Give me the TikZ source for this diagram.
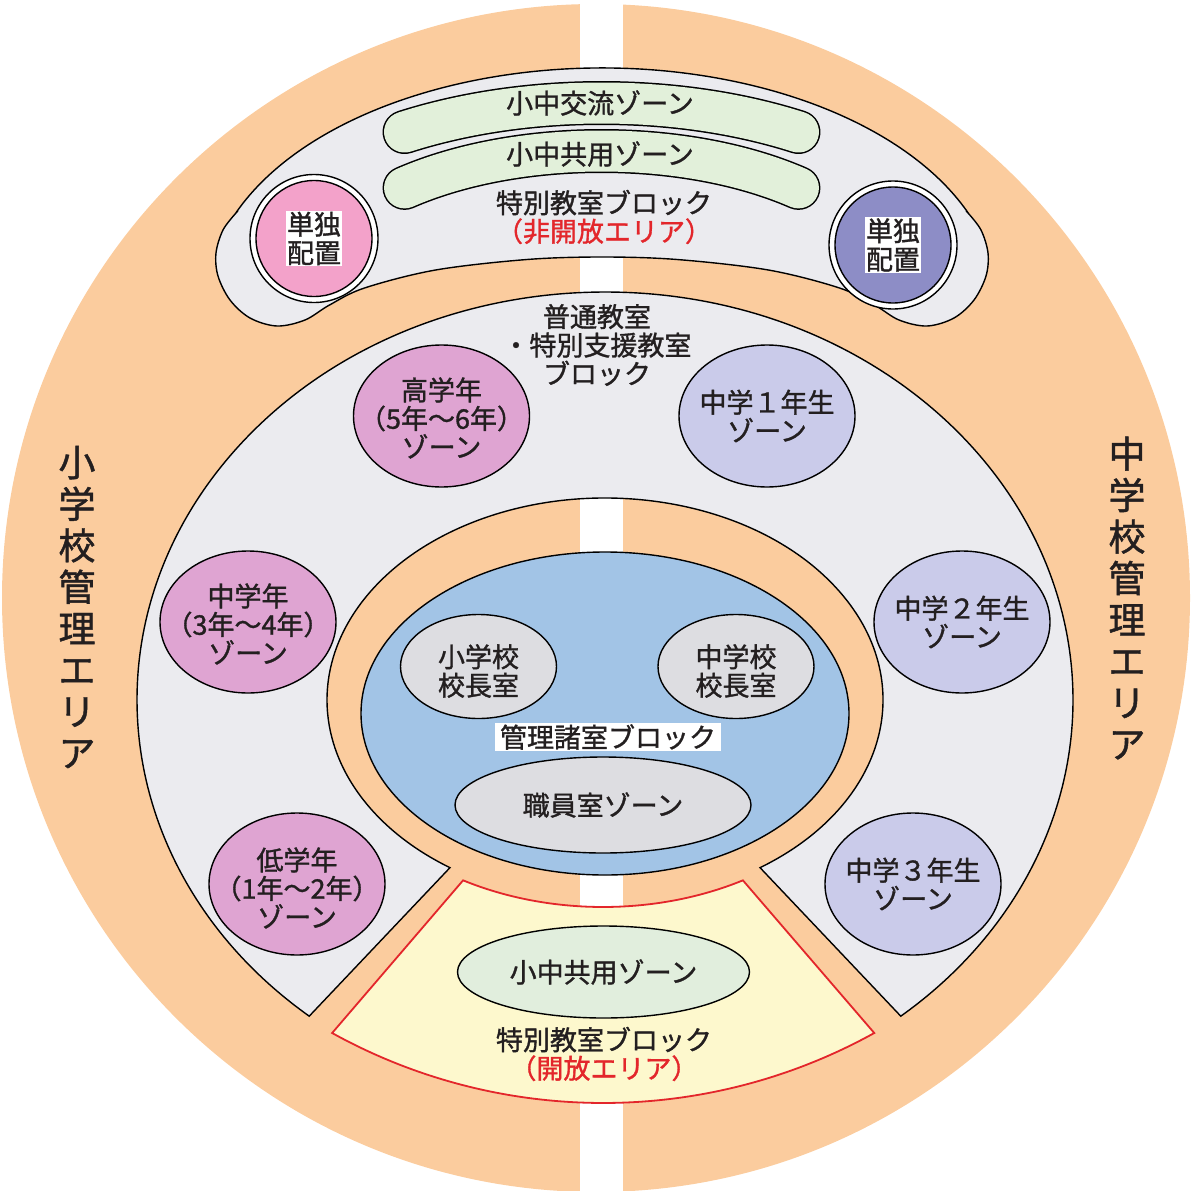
\documentclass[tikz,border=0pt]{standalone}
\usepackage{fontspec}
\setmainfont{Noto Sans CJK JP}[AutoFakeBold=1.2]
\usetikzlibrary{shapes.geometric}
\definecolor{orng}{HTML}{FBCC9E}
\definecolor{blockgray}{HTML}{EBEBEF}
\definecolor{pillgreen}{HTML}{E2F0DA}
\definecolor{pinkc}{HTML}{F3A2CA}
\definecolor{purplec}{HTML}{8D8DC6}
\definecolor{pinkz}{HTML}{DFA4D2}
\definecolor{lavz}{HTML}{CACBEA}
\definecolor{bluez}{HTML}{A2C4E6}
\definecolor{roomgray}{HTML}{DDDDE1}
\definecolor{yellz}{HTML}{FDF8CD}
\definecolor{redl}{HTML}{E3262B}
\definecolor{greenz}{HTML}{E1EEDD}
\definecolor{txt}{HTML}{231F20}
\tikzset{
  outl/.style={draw=black, line width=1.4pt},
  zone/.style={shape=ellipse, outl, inner sep=0pt},
  lbl/.style={font=\fontsize{27}{28.5}\selectfont\bfseries, align=center, inner sep=0pt, text=txt},
  vlbl/.style={font=\fontsize{37}{41.5}\selectfont\bfseries, align=center, inner sep=0pt, text=txt},
  pillout/.style={line width=44pt, draw=black, line cap=round},
  pillin/.style={line width=41pt, draw=pillgreen, line cap=round},
}
\begin{document}
\begin{tikzpicture}[x=1pt,y=-1pt]
\useasboundingbox (0,0) rectangle (1192,1191);
% background
\fill[orng] (596,598) circle[radius=594];
\fill[white] (580,0) rectangle (623,1191);
% top special block (banana)
\path[outl, fill=blockgray] ([shift={(602,300)}]202:395 and 232)
  arc[start angle=202, end angle=338, x radius=395, y radius=232]
  -- plot[smooth, tension=0.55] coordinates {(968,213) (981,230) (988,253) (986,276) (974,300) (954,318) (927,326) (899,320) (874.5,305) (839.5,288) (768.4,270) (677,259.5) (602,257) (527,259.5) (435.6,270) (364.5,288) (329.5,305) (305,320) (277,326) (250,318) (230,300) (218,276) (216,253) (223,230) (236,213)}
  -- cycle;
% regular classroom block
\path[outl, fill=blockgray] ([shift={(605,700)}]129.2:468 and 408)
  arc[start angle=129.2, end angle=410.8, x radius=468, y radius=408]
  -- ([shift={(605,700)}]56.1:278 and 202)
  arc[start angle=56.1, end angle=-236.1, x radius=278, y radius=202]
  -- cycle;
% admin block
\node[zone, fill=bluez, minimum width=488pt, minimum height=323pt] (adm) at (605,713.5) {};
% open special block
\path[draw=redl, line width=1.8pt, fill=yellz] ([shift={(603,700)}]119.4:285 and 207)
  -- ([shift={(603.2,543)}]118.95:560)
  arc[start angle=118.95, end angle=61.05, radius=560]
  -- ([shift={(603,700)}]60.6:285 and 207)
  arc[start angle=60.6, end angle=119.4, x radius=285, y radius=207]
  -- cycle;
% pills
\draw[pillout] ([shift={(601.5,300)}]238.5:377 and 197) arc[start angle=238.5, end angle=301.5, x radius=377, y radius=197];
\draw[pillin] ([shift={(601.5,300)}]238.5:377 and 197) arc[start angle=238.5, end angle=301.5, x radius=377, y radius=197];
\draw[pillout] ([shift={(601.5,300)}]228.8:299 and 149) arc[start angle=228.8, end angle=311.2, x radius=299, y radius=149];
\draw[pillin] ([shift={(601.5,300)}]228.8:299 and 149) arc[start angle=228.8, end angle=311.2, x radius=299, y radius=149];
\node[lbl] (p1) at (600,103) {小中交流ゾーン};
\node[lbl] (p2) at (600,154) {小中共用ゾーン};
\node[lbl] (sp) at (604,217) {特別教室ブロック\\\textcolor{redl}{（非開放エリア）}};
% single placement circles
\node[shape=circle, outl, fill=white, minimum size=128pt, inner sep=0pt] (c1o) at (314,238.5) {};
\node[shape=circle, outl, fill=pinkc, minimum size=116pt, inner sep=0pt] (c1) at (c1o) {};
\node[lbl, fill=white, inner sep=1pt] (c1t) at (c1) {単独\\配置};
\node[shape=circle, outl, fill=white, minimum size=128pt, inner sep=0pt] (c2o) at (893,245) {};
\node[shape=circle, outl, fill=purplec, minimum size=116pt, inner sep=0pt] (c2) at (c2o) {};
\node[lbl, fill=white, inner sep=1pt] (c2t) at (c2) {単独\\配置};
% regular block label
\node[lbl] (reg) at (597,345) {普通教室\\・特別支援教室\\ブロック};
% grade zones
\node[zone, fill=pinkz, minimum width=176pt, minimum height=142pt] (g56) at (441.5,416) {};
\node[lbl] (g56t) at (441.5,418) {高学年\\（5年～6年）\\ゾーン};
\node[zone, fill=pinkz, minimum width=176pt, minimum height=142pt] (g34) at (248,622) {};
\node[lbl] (g34t) at (248,624) {中学年\\（3年～4年）\\ゾーン};
\node[zone, fill=pinkz, minimum width=176pt, minimum height=142pt] (g12) at (297,884) {};
\node[lbl] (g12t) at (297,888) {低学年\\（1年～2年）\\ゾーン};
\node[zone, fill=lavz, minimum width=176pt, minimum height=142pt] (m1) at (767,416) {};
\node[lbl] (m1t) at (m1) {中学１年生\\ゾーン};
\node[zone, fill=lavz, minimum width=176pt, minimum height=142pt] (m2) at (962,622) {};
\node[lbl] (m2t) at (m2) {中学２年生\\ゾーン};
\node[zone, fill=lavz, minimum width=176pt, minimum height=142pt] (m3) at (913,884) {};
\node[lbl] (m3t) at (m3) {中学３年生\\ゾーン};
% admin rooms
\node[zone, fill=roomgray, minimum width=156pt, minimum height=104pt] (ps) at (478.5,666.5) {};
\node[lbl] (pst) at (478.5,671) {小学校\\校長室};
\node[zone, fill=roomgray, minimum width=156pt, minimum height=104pt] (pj) at (736,666.5) {};
\node[lbl] (pjt) at (736,671) {中学校\\校長室};
\node[lbl, fill=white, inner xsep=5pt, inner ysep=1pt] (admt) at (608,737) {管理諸室ブロック};
\node[zone, fill=roomgray, minimum width=296pt, minimum height=96pt] (staff) at (603,805) {};
\node[lbl] (stafft) at (staff) {職員室ゾーン};
% open block
\node[zone, fill=greenz, minimum width=292pt, minimum height=92pt] (sh) at (603.5,972) {};
\node[lbl] (sht) at (sh) {小中共用ゾーン};
\node[lbl] (op) at (604,1054) {特別教室ブロック\\\textcolor{redl}{（開放エリア）}};
% vertical area labels
\node[vlbl] (la) at (77,607) {小\\学\\校\\管\\理\\エ\\リ\\ア};
\node[vlbl] (ra) at (1127,598) {中\\学\\校\\管\\理\\エ\\リ\\ア};
\end{tikzpicture}
\end{document}
